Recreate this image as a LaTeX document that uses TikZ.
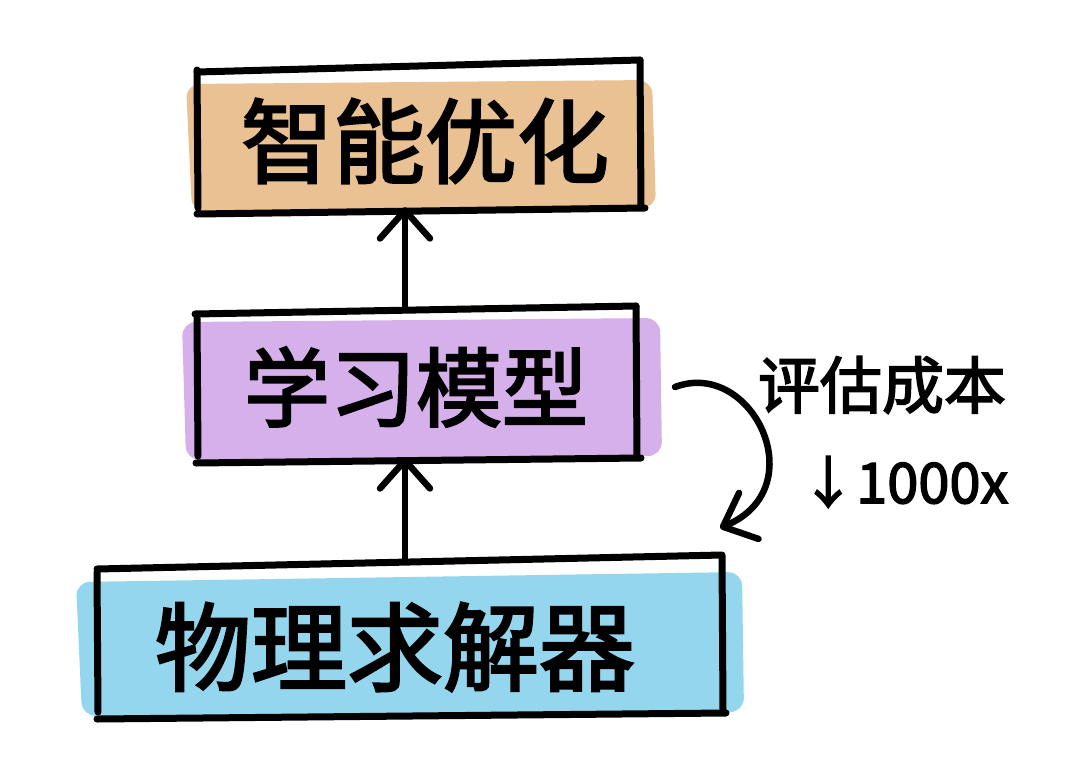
\documentclass[tikz,border=0pt]{standalone}
\usepackage{fontspec}
\newfontfamily\cjk{Noto Sans CJK SC}[FakeBold=2.6]
\usetikzlibrary{arrows.meta,calc}
\definecolor{optfill}{RGB}{234,193,146}
\definecolor{learnfill}{RGB}{214,176,234}
\definecolor{solverfill}{RGB}{148,214,238}
\tikzset{
  sketch/.style={line width=7pt, line cap=round, line join=round, black},
  boxnode/.style={draw=none, inner sep=0pt},
  txt/.style={inner sep=0pt, font=\cjk},
  arr/.style={line width=6.5pt, line cap=round, -{Straight Barb[length=28pt,width=50pt,round]}},
  blob/.style={rounded corners=14pt, draw=none}
}
\begin{document}
\begin{tikzpicture}[x=1pt,y=-1pt]
\useasboundingbox (0,0) rectangle (1080,772);
\fill[white] (0,0) rectangle (1080,772);
% fills
\fill[optfill,blob] (186,84) -- (652,80) -- (656,208) -- (192,212) -- cycle;
\fill[learnfill,blob] (182,322) -- (660,318) -- (662,456) -- (186,460) -- cycle;
\fill[solverfill,blob] (76,582) -- (742,572) -- (744,712) -- (82,716) -- cycle;
% box nodes
\node[boxnode, minimum width=446pt, minimum height=146pt] (opt) at (418,140) {};
\node[boxnode, minimum width=442pt, minimum height=152pt] (learn) at (416,386) {};
\node[boxnode, minimum width=628pt, minimum height=156pt] (solver) at (410,640) {};
% sketch outlines
\draw[sketch] (197,72) -- (640,60);
\draw[sketch] (197,70) -- (198,208);
\draw[sketch] (640,60) -- (641,206);
\draw[sketch] (197,214) -- (645,208);
\draw[sketch] (195,314) -- (636,306);
\draw[sketch] (197,318) -- (198,456);
\draw[sketch] (636,306) -- (637,456);
\draw[sketch] (196,463) -- (641,458);
\draw[sketch] (97,569) -- (722,555);
\draw[sketch] (97,572) -- (98,712);
\draw[sketch] (722,556) -- (723,710);
\draw[sketch] (97,719) -- (726,713);
% texts
\node[txt, font=\cjk\fontsize{92pt}{92pt}\selectfont] (opttxt) at (425,141) {智能优化};
\node[txt, font=\cjk\fontsize{86pt}{86pt}\selectfont] (learntxt) at (416,387) {学习模型};
\node[txt, font=\cjk\fontsize{96pt}{96pt}\selectfont] (solvertxt) at (395,647) {物理求解器};
% vertical arrows
\coordinate (ax) at (405,0);
\draw[arr] (learn.north -| ax) -- ([yshift=6pt]opt.south -| ax);
\draw[arr] (solver.north -| ax) -- ([yshift=5pt]learn.south -| ax);
% curved arrow
\coordinate (cs) at (675,387);
\coordinate (ce) at (720,528);
\draw[arr] (cs) .. controls (752,358) and (815,488) .. (ce);
% labels
\node[txt, font=\cjk\fontsize{62pt}{62pt}\selectfont] (cost) at (882,385) {评估成本};
\node[txt, font=\cjk\fontsize{56pt}{56pt}\selectfont, anchor=west] (factor) at (800,482) {↓1000x};
\end{tikzpicture}
\end{document}
